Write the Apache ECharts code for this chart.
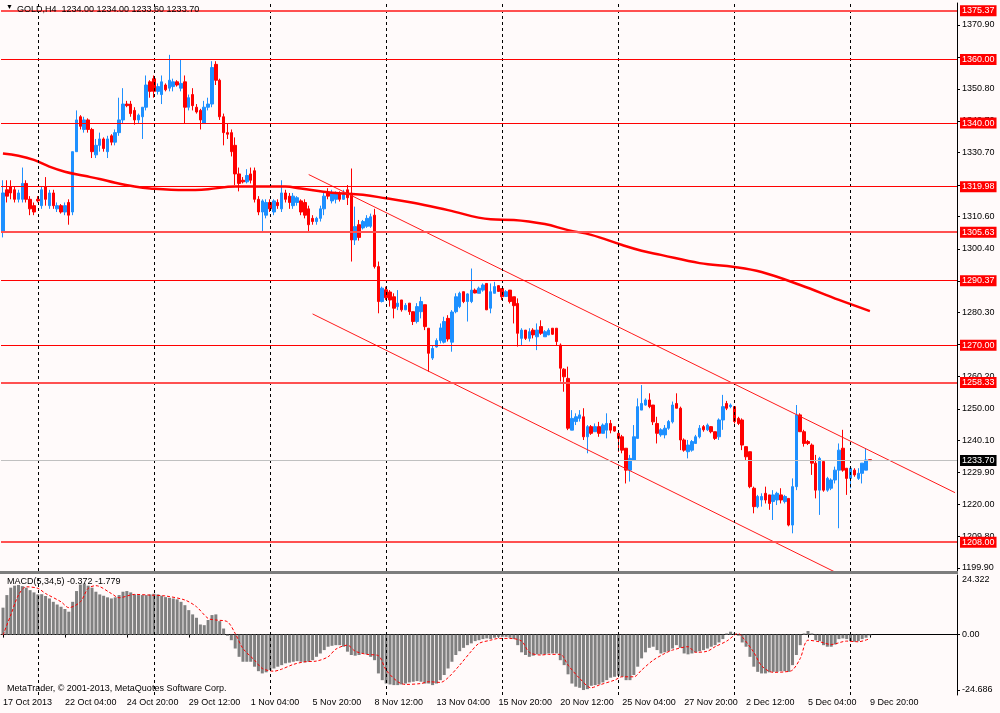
<!DOCTYPE html>
<html><head><meta charset="utf-8">
<script src="https://cdn.jsdelivr.net/npm/echarts@6/dist/echarts.min.js"></script>
<style>html,body{margin:0;padding:0;background:#fffafa;}#c{width:1000px;height:713px;}</style>
</head><body><div id="c"></div>
<script>
// ---------- DATA ----------
const symbolName = 'GOLD,H4';
const yearLabel = '2013';
const tradingDays = ['17 Oct','18 Oct','21 Oct','22 Oct','23 Oct','24 Oct','25 Oct','28 Oct','29 Oct','30 Oct','31 Oct','1 Nov','4 Nov','5 Nov','6 Nov','7 Nov','8 Nov','11 Nov','12 Nov','13 Nov','14 Nov','15 Nov','18 Nov','19 Nov','20 Nov','21 Nov','22 Nov','25 Nov','26 Nov','27 Nov','28 Nov','29 Nov','2 Dec','3 Dec','4 Dec','5 Dec','6 Dec','9 Dec'];
const barHours = ['00:00','04:00','08:00','12:00','16:00','20:00'];
const firstDayStartHour = '12:00';
const weekStarts = ['21 Oct','28 Oct','4 Nov','11 Nov','18 Nov','25 Nov','2 Dec','9 Dec'];

const opens = [1306,1319,1320,1319,1316,1316,1321,1316,1314,1316,1314,1320,1314,1318,1313,1314,1312,1315,1312,1331,
1342,1338,1341,1338,1330,1333,1335,1331,1336,1334,1337,1341,1346,1346,1344,1341,1342,1345,1353,1354,
1350,1349,1352,1351,1351.5,1353,1351,1353,1345,1349,1345,1344,1340,1345,1346,1358.5,1353.5,1342,1337,1337,
1333,1324,1322,1321.5,1324,1325,1316,1312,1311,1315,1312,1315,1313,1318,1317,1314,1315,1315.5,1315,1313,
1310,1309,1310,1313,1318,1315.5,1316,1318,1316,1319,1317.9,1303.2,1308,1307,1307.5,1307.5,1311,1294.8,1283.8,1287.5,
1286.8,1285.3,1282.2,1284.3,1281.2,1283.3,1280.6,1277.5,1280.6,1282.8,1275.4,1266,1269.5,1271.5,1271,1278.5,1271,1280.6,1282.2,1286.9,
1283.8,1283.8,1287.4,1286.4,1287.4,1289.5,1281.7,1286.4,1288.8,1287.9,1285.4,1287.4,1285.3,1283.2,1272.2,1274.8,1272.2,1274.8,1272.7,1275.9,
1272.7,1273.3,1275.4,1275.4,1270.1,1262.5,1259.6,1243.3,1246.0,1247.0,1247.5,1241.2,1244.4,1242.8,1244.4,1242.3,1243.3,1245.4,1244.4,1242.3,
1241.2,1237.6,1230.7,1233.9,1240.7,1249.6,1251.2,1252.8,1251.2,1245.4,1241.8,1241.8,1243.9,1245.9,1251.7,1250.2,1240.2,1236.5,1237.0,1239.1,
1241.2,1244.4,1243.4,1244.4,1242.8,1241.2,1246.5,1251.7,1250.7,1250.7,1247.0,1246.5,1238.1,1236.5,1225.0,1219.2,1221.3,1223.4,1222.9,1220.8,
1221.3,1222.9,1220.8,1221.8,1213.4,1225.5,1248.1,1242.8,1239.7,1238.6,1232.9,1224.4,1233.4,1224.4,1225.0,1227.6,1230.7,1237.6,1231.3,1228.1,
1230.7,1228.1,1229.7,1230.7,1234.00];
const highs = [1322,1322,1322,1320,1319,1326,1322,1317,1315,1317,1320,1323,1319,1319,1315,1314.5,1315,1316,1331,1344,
1342.5,1342,1341.5,1338.5,1335,1337,1335.5,1336,1336.5,1338,1348,1351,1347,1347,1345,1343,1345,1355,1353.5,1355,
1352.5,1355,1352.5,1361.5,1354,1353.5,1360,1355,1349,1351,1346,1344.5,1347,1348,1359.5,1359.5,1354,1343,1340,1338,
1335.5,1326,1323,1325.5,1326,1326,1317,1316,1316,1316,1316,1316,1322,1319,1318,1318,1317,1316,1316,1314,
1311,1310.5,1314,1318,1319.5,1319,1318.5,1318.5,1319,1320.5,1325.7,1313.7,1309.5,1309.5,1311,1311.5,1313,1296.4,1288.5,1288.5,
1287.4,1286.4,1287.4,1284.3,1283.3,1283.3,1280.6,1283.3,1285.3,1282.8,1275.4,1270.1,1272.2,1276.9,1279,1279.5,1281.1,1286.4,1286.9,1286.9,
1286.4,1294.2,1287.9,1288.5,1289.5,1289.5,1289.5,1290,1289,1287.9,1287.4,1287.4,1285.3,1284.8,1275.4,1274.8,1275.4,1275.4,1276.9,1277.9,
1274.8,1275.4,1275.4,1275.4,1270.6,1262.8,1263.3,1249.6,1248.6,1249.6,1250.2,1244.9,1244.9,1245.4,1245.9,1245.4,1248.6,1246.5,1244.4,1242.8,
1241.8,1237.6,1235.5,1244.9,1253.3,1257.5,1253.3,1254.9,1251.2,1247.5,1243.9,1244.9,1246.5,1252.3,1254.9,1250.7,1240.7,1240.2,1240.2,1241.8,
1244.9,1244.9,1245.4,1244.6,1242.8,1247.0,1254.4,1252.5,1251.7,1250.7,1247.5,1247.0,1238.1,1236.5,1225.5,1222.9,1223.4,1225.5,1222.9,1224.4,
1223.9,1225.0,1222.9,1221.8,1228.1,1251.2,1248.6,1243.4,1240.2,1239.1,1235.5,1234.9,1233.4,1228.6,1228.1,1231.8,1239.1,1243.4,1231.3,1231.8,
1231.3,1231.3,1232.9,1237.6,1234.00];
const lows = [1304,1315,1316,1315,1315,1315,1315,1311,1311,1315,1313,1314,1313,1313,1312,1311.5,1311,1308,1311,1331,
1338,1337,1337,1329,1329,1331,1331,1329,1333,1333,1336,1340,1345,1342,1339.5,1340,1335,1344,1348,1348,
1349,1346,1350,1350,1350,1351.5,1350,1340,1344,1344,1343,1338,1340,1344,1345,1352,1341,1333,1335,1329.5,
1320.5,1318.5,1321,1321,1321,1315,1311,1305.5,1310,1312,1311,1313,1312,1315,1313,1313,1314,1311,1310,1305.5,
1308,1308,1309,1311,1316,1314.7,1314.7,1315.3,1315.8,1314.2,1296.4,1301.6,1303,1306.5,1307,1307,1294.2,1280.1,1283.5,1284.3,
1282.2,1278.5,1281.1,1280.6,1281.1,1279.6,1276.4,1276.9,1278.5,1274.8,1261.7,1265.4,1269.3,1270.6,1270.6,1271.2,1268,1280.1,1281.7,1283.3,
1277.5,1283.3,1286.4,1286.4,1286.9,1281.1,1280.1,1286.4,1286.9,1284.3,1285.3,1283.2,1276.9,1269.6,1270.1,1271.7,1271.2,1272.2,1268.5,1273.3,
1272.7,1273.2,1273.3,1270.1,1258.6,1255.4,1243.3,1243.3,1244.9,1246.0,1240.2,1236.0,1241.8,1242.8,1241.2,1242.3,1240.7,1242.3,1242.8,1236.5,
1236.0,1226.5,1227.1,1233.9,1240.7,1249.6,1251.0,1250.2,1244.9,1239.1,1241.2,1240.7,1243.4,1245.4,1250.2,1237.0,1236.5,1234.4,1236.5,1239.1,
1240.7,1242.8,1243.0,1242.3,1240.2,1240.2,1243.4,1249.6,1250.2,1245.4,1244.9,1237.0,1233.9,1225.0,1217.1,1218.7,1219.2,1220.2,1218.2,1215.0,
1219.7,1220.2,1220.2,1213.0,1210.8,1224.4,1242.8,1238.1,1238.6,1229.2,1221.8,1216.6,1223.9,1223.9,1224.4,1226.5,1212.4,1230.2,1222.9,1225.0,
1228.6,1227.6,1226.5,1230.7,1233.60];
const closes = [1318,1317,1318,1316,1318,1321,1316,1313,1312,1315.5,1319,1316,1318,1314,1314,1312,1314,1311,1331,1341,
1339,1341,1338,1331,1333,1335,1332,1335,1334,1337,1341,1346,1345.5,1343,1341,1342.5,1345,1352,1350,1350,
1351.5,1353,1350.5,1353.5,1353,1352,1352.5,1345,1348,1345.5,1343.5,1341,1345,1346,1357.5,1353.5,1342,1337,1336.5,1331,
1324,1321,1321.5,1323.5,1322,1316,1312,1315.5,1315,1313,1315.5,1314,1318,1316,1315,1317,1316.5,1312,1311,1308,
1309,1310,1313,1317,1317,1318,1318,1316,1318,1316.5,1303.2,1307.4,1304,1309,1310,1310.5,1294.8,1283.8,1288,1285,
1284.3,1281.7,1283.3,1281.2,1282.6,1280.6,1277.5,1282.2,1283.8,1275.9,1267.5,1269,1271.5,1275.5,1277.5,1272,1280.5,1285.3,1286.4,1283.8,
1286.2,1287.4,1286.5,1288,1289,1281.2,1286.9,1288.5,1287,1285.3,1286.9,1283.8,1282.5,1273.8,1274.8,1272.2,1274.3,1273.3,1274.8,1273.8,
1274.3,1274.8,1273.5,1271.2,1262.8,1260.1,1243.9,1247.0,1247.5,1248.1,1241.2,1244.4,1242.3,1244.4,1242.3,1244.9,1245.4,1243.3,1243.0,1240.7,
1237.0,1230.7,1234.4,1241.2,1250.7,1251.7,1252.8,1250.7,1245.9,1242.3,1243.4,1243.9,1246.0,1251.2,1250.2,1240.2,1237.0,1238.6,1239.7,1241.2,
1243.9,1243.4,1244.9,1242.8,1240.7,1246.5,1250.7,1250.2,1251.2,1246.0,1245.4,1238.6,1234.9,1225.5,1219.2,1222.4,1222.4,1221.3,1220.2,1222.9,
1223.4,1221.3,1222.4,1213.4,1225.5,1248.1,1242.8,1239.1,1239.1,1232.9,1224.4,1234.4,1224.4,1228.1,1227.6,1230.7,1237.0,1230.7,1228.1,1231.3,
1229.2,1229.7,1232.9,1233.9,1233.70];

// moving average (read at selected bars)
const maBars   = [0,4,8,12,16,21,25,29,34,38,47,53,60,66,73,77,85,93,99,106,115,126,132,140,146,152,160,165,170,180,189,196,206,216,224];
const maValues = [1330.4,1329.7,1328.4,1326.3,1324.7,1323.4,1322.4,1321.2,1320.0,1319.4,1318.9,1319.2,1320.0,1320.0,1320.0,1319.4,1318.1,1317.4,1316.3,1314.9,1312.6,1309.7,1309.5,1308.2,1306.3,1304.8,1301.6,1299.8,1298.5,1295.9,1294.7,1293.1,1289.0,1284.3,1280.8];

// trend channel end points
const upperChannelBars = [79, 246];
const upperChannelPrices = [1323.8, 1223.6];
const lowerChannelBars = [80, 215];
const lowerChannelPrices = [1279.9, 1198.6];

// horizontal levels
const levelsThin = [1360.00, 1340.00, 1319.98, 1290.37, 1270.00];
const levelsWide = [1375.37, 1305.63, 1258.33, 1208.00];
const bidPrice = 1233.70;

// axis tick labels
const priceTicks = [1370.90,1360.80,1350.80,1340.70,1330.70,1320.50,1310.60,1300.40,1290.30,1280.30,1270.20,1260.20,1250.00,1240.10,1229.90,1220.00,1209.80,1199.90];
const macdTicks = [24.322, 0, -24.686];

// MACD(5,34,5) histogram
const macdHist = [12.0,17.6,20.9,21.8,22.1,21.6,20.9,19.8,18.8,17.9,18.0,17.2,16.1,14.6,13.4,12.4,11.4,10.2,14.6,19.4,
22.3,22.8,21.8,20.9,19.1,17.9,17.3,16.6,16.1,16.6,17.6,19.1,19.4,18.8,17.9,17.6,17.6,17.6,17.9,18.2,
17.9,17.3,16.7,16.4,16.1,15.7,14.6,13.1,10.9,9.0,7.5,4.5,4.2,6.5,8.7,9.0,6.0,2.7,-0.5,-2.5,
-6.2,-9.9,-12.1,-12.1,-12.1,-14.3,-16.3,-17.3,-16.8,-15.8,-15.1,-14.3,-13.6,-12.8,-12.5,-12.1,-11.8,-12.1,-12.4,-12.1,
-11.4,-9.9,-8.4,-6.9,-5.4,-5.0,-4.7,-4.7,-5.4,-7.6,-9.1,-9.4,-9.1,-8.4,-8.8,-9.9,-11.4,-17.3,-20.3,-21.8,
-22.2,-22.5,-22.5,-22.2,-21.8,-21.3,-21.0,-20.7,-21.0,-21.8,-21.8,-22.5,-21.8,-20.3,-18.0,-15.1,-12.1,-9.1,-7.4,-5.9,
-4.7,-3.9,-2.9,-2.5,-2.0,-1.7,-2.0,-1.4,-1.0,-1.0,-1.0,-1.4,-2.0,-4.7,-7.9,-9.1,-9.9,-9.4,-8.8,-8.8,
-8.8,-8.4,-8.4,-8.4,-11.4,-13.6,-17.7,-21.8,-23.2,-23.7,-24.7,-24.3,-22.8,-22.5,-22.2,-21.3,-20.3,-19.2,-18.8,-18.3,
-18.8,-20.3,-20.3,-18.0,-14.3,-10.6,-7.9,-5.9,-5.4,-6.9,-8.4,-7.9,-7.4,-6.2,-4.7,-5.9,-8.4,-8.8,-8.4,-7.9,
-7.4,-6.9,-6.2,-5.4,-4.7,-3.5,-2.0,0.5,1.3,0.5,-0.5,-3.5,-5.4,-9.9,-14.3,-16.6,-17.3,-17.3,-16.8,-16.6,
-16.6,-16.3,-16.3,-16.6,-13.6,-9.1,-4.7,0.5,1.6,0.5,-2.5,-2.9,-4.7,-5.4,-5.4,-4.4,-2.0,-1.7,-2.0,-2.9,
-3.2,-2.9,-2.0,-1.4,-0.372];
// MACD signal (read at selected bars)
const signalBars = [0,2,4,6,9,11,15,17,20,22,24,28,30,34,38,42,47,50,53,55,58,60,62,65,67,70,72,75,78,81,84,86,89,91,94,97,99,102,104,108,110,113,115,118,121,123,126,128,131,134,136,139,141,144,146,149,152,154,158,160,163,165,168,171,173,177,179,182,184,187,190,191,194,196,199,202,204,206,208,211,214,218,221,224];
const signalValues = [-0.2,8.7,17.6,21.3,20.6,18.3,14.6,12.0,14.6,20.6,21.8,18.3,16.4,17.9,17.6,17.2,15.4,12.4,7.2,6.5,5.7,0.5,-6.2,-11.4,-15.1,-16.3,-15.4,-13.3,-12.1,-11.8,-9.9,-6.5,-4.7,-7.4,-8.8,-9.4,-15.8,-21.0,-22.2,-21.8,-21.0,-21.3,-19.2,-13.6,-7.4,-3.9,-2.5,-1.7,-1.7,-2.9,-7.9,-9.1,-8.8,-8.8,-13.6,-19.5,-23.7,-22.5,-20.3,-18.8,-18.8,-15.8,-11.4,-8.4,-6.9,-5.4,-7.9,-7.4,-5.4,-2.9,0.5,-1.0,-7.9,-13.9,-16.8,-16.6,-15.8,-10.6,-2.5,-3.2,-4.4,-2.9,-3.2,-1.779];

// ---------- BUILD ----------
const SLOTS = 247;
const categories = [];
tradingDays.forEach((d, di) => {
  barHours.forEach(h => {
    if (di === 0 && h < firstDayStartHour) return;
    categories.push(d + ' ' + h);
  });
});
const barCount = categories.length;
while (categories.length < SLOTS) categories.push('');
const separators = weekStarts.map(d => d + ' 00:00');

const FONT = 'Liberation Sans';
const candleData = opens.map((o, i) => [o, closes[i], lows[i], highs[i]]);
const last = opens.length - 1;

function levelSeries(prices, color, width) {
  return {
    type: 'line', xAxisIndex: 0, yAxisIndex: 0, data: [], symbol: 'none', silent: true,
    itemStyle: { color: color }, lineStyle: { color: color },
    markLine: {
      silent: true, symbol: ['none', 'none'], animation: false,
      lineStyle: { color: color, width: width, type: 'solid', opacity: 1 },
      label: { show: true, position: 'end', distance: 3, backgroundColor: '#ff0000', color: '#ffffff',
        padding: [1, 2, 0, 2], fontSize: 9, fontFamily: FONT, lineHeight: 10, formatter: p => Number(p.value).toFixed(2) },
      data: prices.map(p => ({ yAxis: p }))
    }
  };
}
const sepMarkLine = {
  silent: true, symbol: ['none', 'none'], animation: false,
  lineStyle: { color: '#000000', type: [3, 3], width: 1 }, label: { show: false },
  data: separators.map(s => ({ xAxis: s }))
};
const tickAt = i => i % 16 === 0 && i < barCount;

const option = {
  animation: false,
  backgroundColor: '#fffafa',
  textStyle: { fontFamily: FONT },
  grid: [
    { left: 1, width: 956, top: 3, height: 568 },
    { left: 1, width: 956, top: 575, height: 120 }
  ],
  xAxis: [
    { type: 'category', gridIndex: 0, data: categories, boundaryGap: true,
      axisLine: { show: false }, axisTick: { show: false }, axisLabel: { show: false }, splitLine: { show: false } },
    { type: 'category', gridIndex: 1, data: categories, boundaryGap: true,
      axisLine: { show: true, lineStyle: { color: '#000', width: 1 } },
      axisTick: { show: true, interval: tickAt, alignWithLabel: true, length: 3, lineStyle: { color: '#000' } },
      axisLabel: { show: true, interval: tickAt, align: 'left', margin: 3, fontSize: 9, fontFamily: FONT, color: '#000',
        formatter: (v, i) => i === 0 ? v.split(' ').slice(0, 2).join(' ') + ' ' + yearLabel : v },
      splitLine: { show: false } }
  ],
  yAxis: [
    { type: 'value', gridIndex: 0, position: 'right', min: 1198.93, max: 1377.83, scale: true,
      axisLine: { show: true, lineStyle: { color: '#000' } },
      axisTick: { show: true, length: 3, lineStyle: { color: '#000' }, customValues: priceTicks },
      axisLabel: { show: true, margin: 5, fontSize: 9, fontFamily: FONT, color: '#000', customValues: priceTicks,
        formatter: v => Number(v).toFixed(2) },
      splitLine: { show: false } },
    { type: 'value', gridIndex: 1, position: 'right', min: -26.91, max: 26.55,
      axisLine: { show: true, lineStyle: { color: '#000' } },
      axisTick: { show: true, length: 3, lineStyle: { color: '#000' }, customValues: macdTicks.filter(v => v !== macdTicks[0]) },
      axisLabel: { show: true, margin: 5, fontSize: 9, fontFamily: FONT, color: '#000', customValues: macdTicks,
        formatter: v => v === 0 ? '0.00' : String(v) },
      splitLine: { show: false } }
  ],
  graphic: [
    { type: 'rect', shape: { x: 0, y: 571, width: 958, height: 3 }, style: { fill: '#7d7d7d' }, silent: true, z: 100 },
    { type: 'text', left: 6, top: 4, z: 100, style: { text: '\u25BC', font: '7px ' + FONT, fill: '#000' } },
    { type: 'text', left: 17, top: 5, z: 100, style: {
      text: symbolName + '  ' + [opens[last], highs[last], lows[last], closes[last]].map(v => v.toFixed(2)).join(' '),
      font: '9px ' + FONT, fill: '#000' } },
    { type: 'text', left: 7, top: 577, z: 100, style: {
      text: 'MACD(5,34,5) ' + macdHist[last].toFixed(3) + ' ' + signalValues[signalValues.length - 1].toFixed(3),
      font: '9px ' + FONT, fill: '#000' } },
    { type: 'text', left: 7, top: 684, z: 100, style: {
      text: 'MetaTrader, \u00A9 2001-2013, MetaQuotes Software Corp.', font: '9px ' + FONT, fill: '#000' } }
  ],
  series: [
    { type: 'candlestick', xAxisIndex: 0, yAxisIndex: 0, data: candleData, barWidth: 3,
      itemStyle: { color: '#1e90ff', color0: '#ff0000', borderColor: '#1e90ff', borderColor0: '#ff0000', borderWidth: 1 },
      markLine: sepMarkLine },
    levelSeries(levelsThin, '#ff0000', 1),
    levelSeries(levelsWide, '#ff5050', 2),
    { type: 'line', xAxisIndex: 0, yAxisIndex: 0, data: [], symbol: 'none', silent: true,
      itemStyle: { color: '#c0c0c0' }, lineStyle: { color: '#c0c0c0' },
      markLine: { silent: true, symbol: ['none', 'none'], animation: false,
        lineStyle: { color: '#c0c0c0', width: 1, type: 'solid' },
        label: { show: true, position: 'end', distance: 3, formatter: bidPrice.toFixed(2), backgroundColor: '#000',
          color: '#fff', padding: [1, 2, 0, 2], fontSize: 9, fontFamily: FONT, lineHeight: 10 },
        data: [{ yAxis: bidPrice }] } },
    { type: 'line', xAxisIndex: 0, yAxisIndex: 0, data: maBars.map((b, i) => [b, maValues[i]]),
      smooth: 0.4, symbol: 'none', lineStyle: { color: '#ff0000', width: 2.5 }, z: 3 },
    { type: 'line', xAxisIndex: 0, yAxisIndex: 0, data: upperChannelBars.map((b, i) => [b, upperChannelPrices[i]]),
      symbol: 'none', lineStyle: { color: '#ff1a1a', width: 1 }, z: 3 },
    { type: 'line', xAxisIndex: 0, yAxisIndex: 0, data: lowerChannelBars.map((b, i) => [b, lowerChannelPrices[i]]),
      symbol: 'none', lineStyle: { color: '#ff1a1a', width: 1 }, z: 3 },
    { type: 'bar', xAxisIndex: 1, yAxisIndex: 1, data: macdHist, barWidth: 3,
      itemStyle: { color: '#808080' }, markLine: sepMarkLine },
    { type: 'line', xAxisIndex: 1, yAxisIndex: 1, data: signalBars.map((b, i) => [b, signalValues[i]]),
      smooth: 0.3, symbol: 'none', lineStyle: { color: '#ff0000', width: 1, type: [3, 2] }, z: 3 }
  ]
};
const chart = echarts.init(document.getElementById('c'));
chart.setOption(option);
</script>
</body></html>
